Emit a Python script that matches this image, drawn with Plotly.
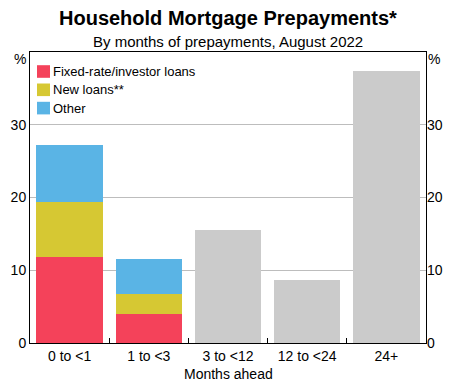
import plotly.graph_objects as go

categories = ["0 to <1", "1 to <3", "3 to <12", "12 to <24", "24+"]
fixed_rate = [11.8, 4.0, None, None, None]
new_loans = [7.6, 2.7, None, None, None]
other = [7.8, 4.9, None, None, None]
total_only = [None, None, 15.6, 8.7, 37.4]
y_ticks = [0, 10, 20, 30]

series_names = ["Fixed-rate/investor loans", "New loans**", "Other"]
series_colors = ["#F4425A", "#D6C833", "#5AB4E5"]
grey = "#CBCBCB"

FONT = "Liberation Sans, Arial, sans-serif"
W, H = 450, 382
M = dict(l=30, r=24, t=52, b=39)
plot_w = W - M["l"] - M["r"]
plot_h = H - M["t"] - M["b"]


def px_x(x):
    return (x - M["l"]) / plot_w


def px_y(y):
    return (H - M["b"] - y) / plot_h


fig = go.Figure()
for name, vals, col in zip(series_names, [fixed_rate, new_loans, other], series_colors):
    fig.add_trace(go.Bar(x=categories, y=vals, name=name, showlegend=False,
                         marker=dict(color=col, line=dict(width=0))))
fig.add_trace(go.Bar(x=categories, y=total_only, name="Total", showlegend=False,
                     marker=dict(color=grey, line=dict(width=0))))

# invisible trace to activate the right-hand axis
fig.add_trace(go.Scatter(x=[categories[0]], y=[0], yaxis="y2", mode="markers",
                         marker=dict(opacity=0), showlegend=False, hoverinfo="skip"))

fig.update_layout(
    width=W, height=H,
    margin=dict(M, autoexpand=False),
    barmode="stack", bargap=0.16,
    plot_bgcolor="white", paper_bgcolor="white",
    font=dict(family=FONT, size=14, color="black"),
    showlegend=False,
    xaxis=dict(
        showline=True, linecolor="black", linewidth=1, mirror=True,
        ticks="inside", tickson="boundaries", ticklen=5, tickcolor="black",
        tickfont=dict(size=14), automargin=False,
    ),
    yaxis=dict(
        range=[0, 40], tickvals=y_ticks, showgrid=True, gridcolor="#BDBDBD",
        gridwidth=1, showline=True, linecolor="black", linewidth=1, mirror=True,
        ticks="", tickfont=dict(size=14), zeroline=False, automargin=False,
    ),
    yaxis2=dict(
        range=[0, 40], tickvals=y_ticks, overlaying="y", side="right",
        showgrid=False, ticks="", tickfont=dict(size=14), zeroline=False,
        automargin=False,
    ),
)

# titles
fig.add_annotation(text="<b>Household Mortgage Prepayments*</b>", xref="paper", yref="paper",
                   x=0.5, y=px_y(18), xanchor="center", yanchor="middle",
                   showarrow=False, font=dict(size=20))
fig.add_annotation(text="By months of prepayments, August 2022", xref="paper", yref="paper",
                   x=0.5, y=px_y(41.5), xanchor="center", yanchor="middle",
                   showarrow=False, font=dict(size=15))
fig.add_annotation(text="Months ahead", xref="paper", yref="paper",
                   x=0.5, y=px_y(373.5), xanchor="center", yanchor="middle",
                   showarrow=False, font=dict(size=14))
fig.add_annotation(text="%", xref="paper", yref="paper", x=px_x(20), y=px_y(58.5),
                   xanchor="center", yanchor="middle", showarrow=False, font=dict(size=14))
fig.add_annotation(text="%", xref="paper", yref="paper", x=px_x(433.5), y=px_y(58.5),
                   xanchor="center", yanchor="middle", showarrow=False, font=dict(size=14))

# legend: coloured squares with labels
for i, (name, col) in enumerate(zip(series_names, series_colors)):
    cy = 71.5 + 18.3 * i
    fig.add_shape(type="rect", xref="paper", yref="paper",
                  x0=px_x(37), x1=px_x(50), y0=px_y(cy + 6.3), y1=px_y(cy - 6.3),
                  fillcolor=col, line=dict(width=0))
    fig.add_annotation(text=name, xref="paper", yref="paper", x=px_x(51), y=px_y(cy),
                       xanchor="left", yanchor="middle", showarrow=False,
                       font=dict(size=13))

fig.write_html("out.html")
